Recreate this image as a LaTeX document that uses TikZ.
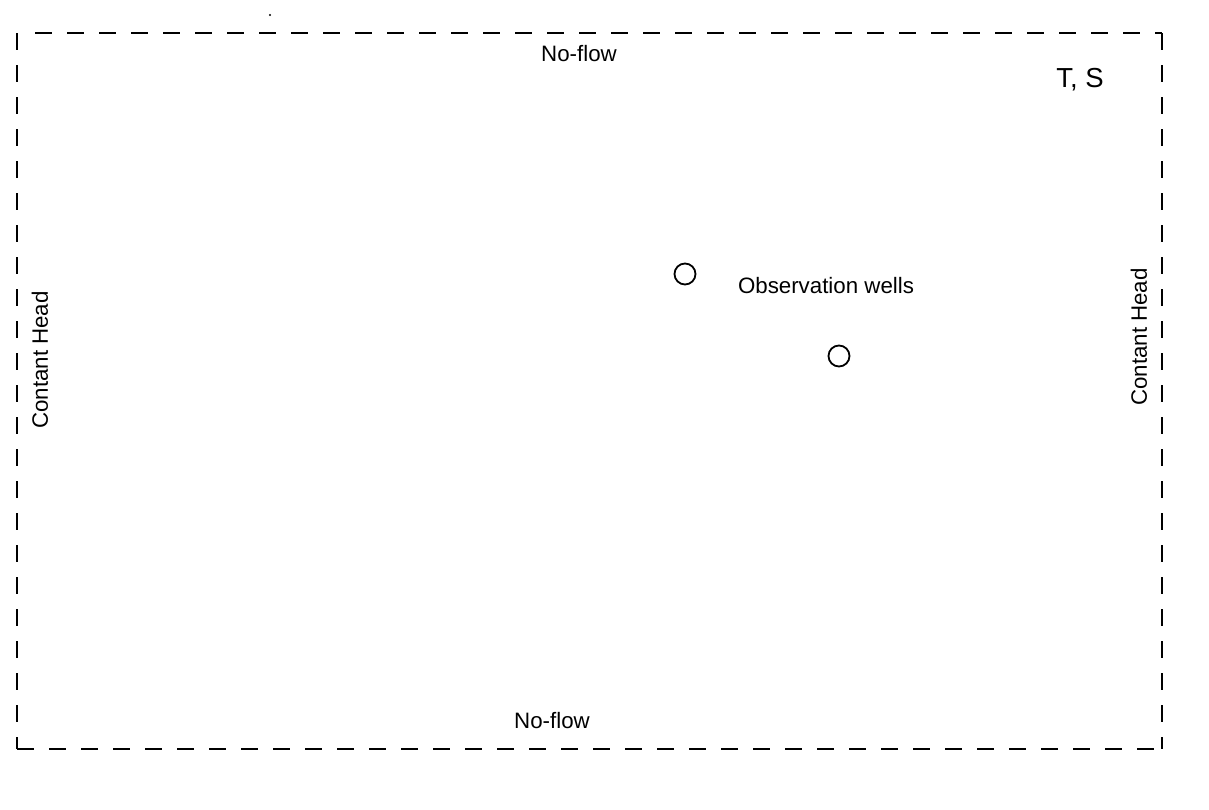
\documentclass[tikz,border=0pt]{standalone}
\usepackage{fontspec}
\setmainfont{Liberation Sans}
\begin{document}
\begin{tikzpicture}[x=1pt,y=-1pt,
  bound/.style={line width=2pt, dash pattern=on 17pt off 15pt},
  lbl/.style={inner sep=0pt, font=\fontsize{22.3}{26}\selectfont},
  well/.style={circle, draw, line width=1.8pt, minimum size=21pt, inner sep=0pt}]
\useasboundingbox[fill=white] (0,0) rectangle (1209,809);
\coordinate (tl) at (17,33);
\coordinate (tr) at (1162,33);
\coordinate (bl) at (17,749);
\coordinate (br) at (1162,749);
\coordinate (ts) at (35,33);
\draw[bound] (tl) -- (bl);
\draw[bound] (ts) -- (tr);
\draw[bound] (tr) -- (br);
\draw[bound] (bl) -- (br);
\fill (270,15) circle (1.2pt);
\node[lbl] (nftop) at (579,54) {No-flow};
\node[lbl] (nfbot) at (552,721) {No-flow};
\node[lbl, font=\fontsize{27.5}{32}\selectfont] (tsl) at (1080,80) {T, S};
\node[lbl] (obs) at (826,286) {Observation wells};
\node[well] (w1) at (685,274) {};
\node[well] (w2) at (839,356) {};
\node[lbl, rotate=90] (chl) at (40,360) {Contant Head};
\node[lbl, rotate=90] (chr) at (1139,337) {Contant Head};
\end{tikzpicture}
\end{document}
